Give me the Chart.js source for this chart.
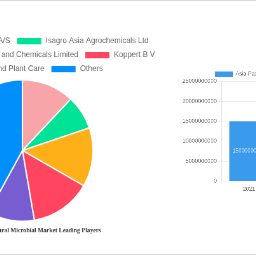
<!DOCTYPE html>
<html>
<head>
<meta charset="utf-8">
<script src="https://cdn.jsdelivr.net/npm/chart.js@4/dist/chart.umd.min.js"></script>
<style>
  html, body { margin: 0; padding: 0; background: #fff; }
  body { width: 256px; height: 256px; position: relative; overflow: hidden; }
  .rule { position: absolute; left: 0; width: 256px; height: 1px; background: #d9d9d9; }
  canvas { position: absolute; transform-origin: 0 0; }
  #pieCanvas { left: -130.4px; top: 31px; transform: scale(0.635); }
  #barCanvas { left: 180.5px; top: 66.8px; transform: scale(0.45); }
</style>
</head>
<body>
<div class="rule" style="top:0"></div>
<div class="rule" style="top:254px"></div>
<canvas id="pieCanvas" width="480" height="330"></canvas>
<canvas id="barCanvas" width="333" height="282"></canvas>
<script>
// leading players (share, %)
const playerNames = [
  'Chr. Hansen Holding A/S',
  'Isagro Asia Agrochemicals Ltd',
  'Gujarat State Fertilizers and Chemicals Limited',
  'Koppert B V',
  'Lallemand Plant Care',
  'Others'
];
const playerShares = [12, 7.8, 13.5, 14, 10.7, 42];
const playerColors = ['#f8a5a9', '#00e396', '#feb019', '#ff4560', '#775dd0', '#008ffb'];
const pieTitle = 'Asia-Pacific Agricultural Microbial Market Leading Players';

// market size (USD)
const years = ['2021', '2029'];
const marketValues = [15000000000, null];
const marketLabel = 'Asia-Pacific Market Value';
const yTicks = [0, 5000000000, 10000000000, 15000000000, 20000000000, 25000000000];

new Chart(document.getElementById('pieCanvas').getContext('2d'), {
  type: 'pie',
  data: {
    labels: playerNames,
    datasets: [{
      data: playerShares,
      backgroundColor: playerColors,
      borderColor: '#fff',
      borderWidth: 2
    }]
  },
  options: {
    responsive: false,
    animation: false,
    plugins: {
      legend: { display: true, position: 'top' },
      title: {
        display: true,
        position: 'bottom',
        text: pieTitle,
        color: '#333',
        font: { family: "'Times New Roman', 'Liberation Serif', serif", size: 9.6, weight: 'bold' },
        padding: { top: 8, bottom: 10 }
      },
      tooltip: { enabled: false }
    }
  }
});

// value printed inside each bar
const barValueLabels = {
  id: 'barValueLabels',
  afterDatasetsDraw(chart) {
    const { ctx } = chart;
    const meta = chart.getDatasetMeta(0);
    ctx.save();
    ctx.fillStyle = '#fff';
    ctx.font = "12px 'Helvetica Neue', Helvetica, Arial, sans-serif";
    ctx.textAlign = 'center';
    ctx.textBaseline = 'middle';
    meta.data.forEach((bar, i) => {
      const v = chart.data.datasets[0].data[i];
      if (v == null) return;
      ctx.fillText(String(v), bar.x, (bar.y + bar.base) / 2);
    });
    ctx.restore();
  }
};

new Chart(document.getElementById('barCanvas').getContext('2d'), {
  type: 'bar',
  data: {
    labels: years,
    datasets: [{
      label: marketLabel,
      data: marketValues,
      backgroundColor: '#3a9aec',
      borderColor: '#3a9aec'
    }]
  },
  options: {
    responsive: false,
    animation: false,
    scales: {
      y: {
        min: yTicks[0],
        max: yTicks[yTicks.length - 1],
        afterBuildTicks(axis) { axis.ticks = yTicks.map(v => ({ value: v })); },
        ticks: { font: { size: 12.5 }, callback: v => String(v) }
      }
    },
    plugins: {
      legend: { display: true },
      tooltip: { enabled: false }
    }
  },
  plugins: [barValueLabels]
});
</script>
</body>
</html>
